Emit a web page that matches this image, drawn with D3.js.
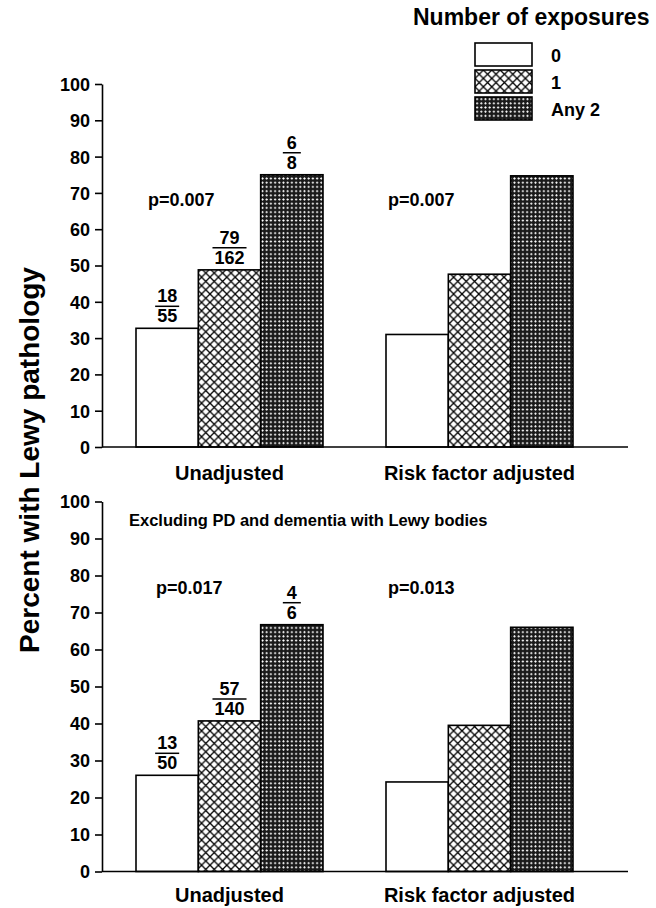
<!DOCTYPE html>
<html>
<head>
<meta charset="utf-8">
<script src="https://cdn.jsdelivr.net/npm/d3@7"></script>
<style>
  body { margin: 0; background: #fff; }
  text { font-family: "Liberation Sans", Arial, sans-serif; font-weight: bold; fill: #000; }
</style>
</head>
<body>
<svg id="chart" width="656" height="908"></svg>
<script>
'use strict';

// Data
var groups = ['Unadjusted', 'Risk factor adjusted'];
var exposures = ['0', '1', 'Any 2'];
var topValues = [[32.7, 48.8, 75.0], [31.0, 47.6, 74.7]];
var bottomValues = [[26.0, 40.7, 66.7], [24.2, 39.5, 66.0]];
var topCounts = [['18', '55'], ['79', '162'], ['6', '8']];
var bottomCounts = [['13', '50'], ['57', '140'], ['4', '6']];
var topP = ['p=0.007', 'p=0.007'];
var bottomP = ['p=0.017', 'p=0.013'];
var yTicks = [0, 10, 20, 30, 40, 50, 60, 70, 80, 90, 100];

var svg = d3.select('#chart');
var defs = svg.append('defs');

// Hatch for one exposure: open cross-hatch
var p1 = defs.append('pattern').attr('id', 'hatch1')
  .attr('patternUnits', 'userSpaceOnUse').attr('width', 8.4).attr('height', 8.4);
p1.append('rect').attr('width', 8.4).attr('height', 8.4).attr('fill', '#fff');
p1.append('path').attr('d', 'M0,0L8.4,8.4M0,8.4L8.4,0')
  .attr('stroke', '#000').attr('stroke-width', 1.3);

// Hatch for two exposures: dense cross-hatch
var p2 = defs.append('pattern').attr('id', 'hatch2')
  .attr('patternUnits', 'userSpaceOnUse').attr('width', 4.2).attr('height', 4.2);
p2.append('rect').attr('width', 4.2).attr('height', 4.2).attr('fill', '#1a1a1a');
p2.append('path').attr('d', 'M2.1,0.8L3.4,2.1L2.1,3.4L0.8,2.1Z').attr('fill', '#fff');

var fills = d3.scaleOrdinal().domain(exposures)
  .range(['#fff', 'url(#hatch1)', 'url(#hatch2)']);

var xAxisX = 102;
var xEnd = 628;

var x0 = d3.scaleBand().domain(groups).range([136, 573]).paddingInner(0.252).paddingOuter(0);
var x1 = d3.scaleBand().domain(exposures).range([0, x0.bandwidth()]);

var panels = [
  { values: topValues, counts: topCounts, pvals: topP, range: [447, 84],
    pX: [148, 388], pY: 66.5, note: null, labelGap: 33 },
  { values: bottomValues, counts: bottomCounts, pvals: bottomP, range: [871.5, 501.5],
    pX: [156, 388], pY: 75, note: 'Excluding PD and dementia with Lewy bodies', labelGap: 30 }
];

panels.forEach(function(panel) {
  var y = d3.scaleLinear().domain([0, 100]).range(panel.range);
  var g = svg.append('g');

  // Bars
  panel.values.forEach(function(vals, gi) {
    g.selectAll(null).data(vals).enter().append('rect')
      .attr('x', function(d, i) { return x0(groups[gi]) + x1(exposures[i]); })
      .attr('y', function(d) { return y(d); })
      .attr('width', x1.bandwidth())
      .attr('height', function(d) { return y(0) - y(d); })
      .attr('fill', function(d, i) { return fills(exposures[i]); })
      .attr('stroke', '#000').attr('stroke-width', 1.6);
  });

  // Fractions above the unadjusted bars
  panel.counts.forEach(function(c, i) {
    var cx = x0(groups[0]) + x1(exposures[i]) + x1.bandwidth() / 2;
    var top = y(panel.values[0][i]);
    var fg = g.append('g');
    var num = fg.append('text').attr('x', cx).attr('y', top - 26)
      .attr('text-anchor', 'middle').style('font-size', '18px').text(c[0]);
    var den = fg.append('text').attr('x', cx).attr('y', top - 6)
      .attr('text-anchor', 'middle').style('font-size', '18px').text(c[1]);
    var w = Math.max(num.node().getComputedTextLength(), den.node().getComputedTextLength(), 14) + 4;
    fg.append('line').attr('x1', cx - w / 2).attr('x2', cx + w / 2)
      .attr('y1', top - 22).attr('y2', top - 22)
      .attr('stroke', '#000').attr('stroke-width', 1.5);
  });

  // p values
  panel.pvals.forEach(function(p, i) {
    g.append('text').attr('x', panel.pX[i]).attr('y', y(panel.pY))
      .style('font-size', '18px').text(p);
  });

  if (panel.note) {
    g.append('text').attr('x', 129).attr('y', y(93.5))
      .style('font-size', '16.5px').text(panel.note);
  }

  // Y axis
  var ax = g.append('g').attr('transform', 'translate(' + xAxisX + ',0)')
    .call(d3.axisLeft(y).tickValues(yTicks).tickSize(7).tickSizeOuter(0).tickPadding(5));
  ax.select('.domain').attr('stroke-width', 1.6);
  ax.selectAll('.tick line').attr('stroke-width', 1.6);
  ax.selectAll('.tick text').style('font-size', '18px')
    .attr('font-family', null).attr('dy', '0.36em');

  // Baseline
  g.append('line').attr('x1', xAxisX).attr('x2', xEnd)
    .attr('y1', y(0)).attr('y2', y(0))
    .attr('stroke', '#000').attr('stroke-width', 1.6);

  // Category labels
  g.selectAll(null).data(groups).enter().append('text')
    .attr('x', function(d) { return x0(d) + x0.bandwidth() / 2; })
    .attr('y', y(0) + panel.labelGap)
    .attr('text-anchor', 'middle').style('font-size', '20px')
    .text(function(d) { return d; });
});

// Y axis title
svg.append('text')
  .attr('transform', 'translate(39,460) rotate(-90)')
  .attr('text-anchor', 'middle').style('font-size', '28px')
  .text('Percent with Lewy pathology');

// Legend
var legend = svg.append('g');
legend.append('text').attr('x', 413).attr('y', 25).style('font-size', '23px')
  .text('Number of exposures');
var items = legend.selectAll(null).data(exposures).enter().append('g')
  .attr('transform', function(d, i) { return 'translate(475,' + (43 + i * 27) + ')'; });
items.append('rect').attr('width', 57).attr('height', 23)
  .attr('fill', function(d) { return fills(d); })
  .attr('stroke', '#000').attr('stroke-width', 1.6);
items.append('text').attr('x', 76).attr('y', 19).style('font-size', '18px')
  .text(function(d) { return d; });
</script>
</body>
</html>
